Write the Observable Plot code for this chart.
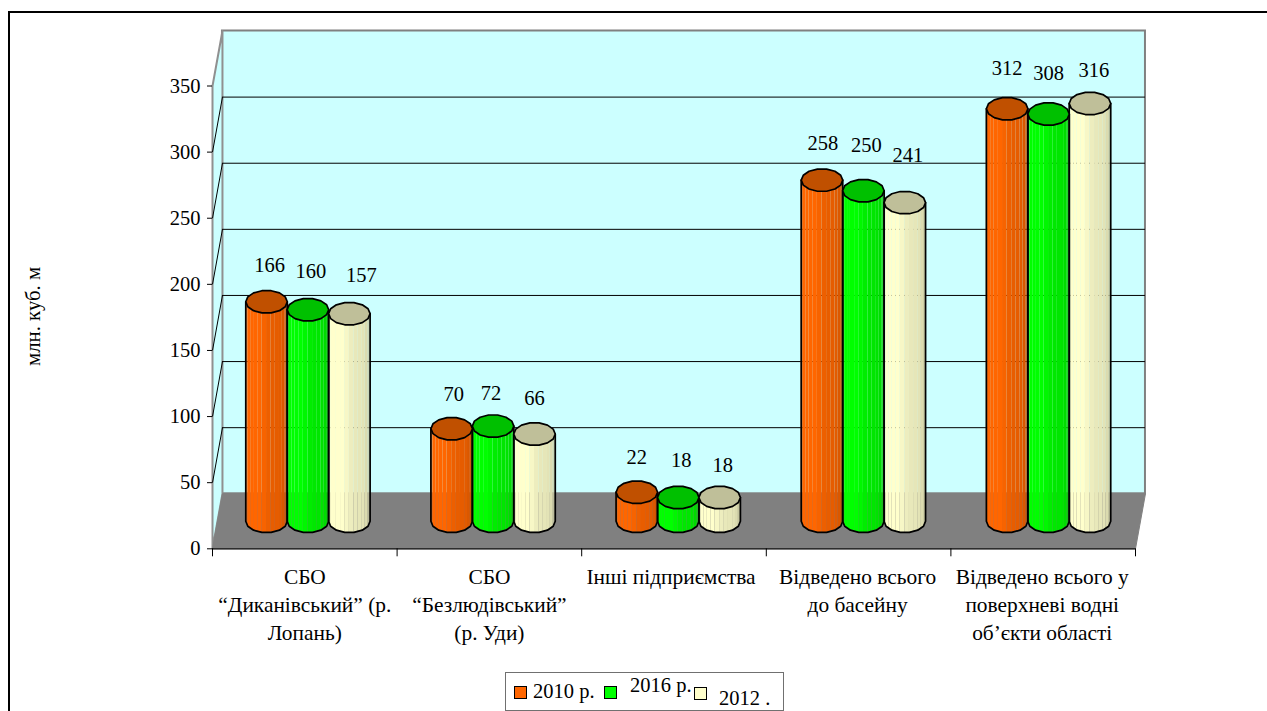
<!DOCTYPE html>
<html lang="uk">
<head>
<meta charset="utf-8">
<title>Скиди у поверхневі водні об'єкти</title>
<style>
  html, body { margin: 0; padding: 0; background: #fff; overflow: hidden; }
  body { width: 1267px; height: 711px; position: relative; font-family: "Liberation Serif", serif; color: #000; }
  #frame { position: absolute; left: 8px; top: 11px; right: 0; bottom: 0; border-left: 2px solid #000; border-top: 2px solid #000; pointer-events: none; }
  #legend { position: absolute; left: 505px; top: 672px; width: 277px; height: 37px; border: 1px solid #707070; overflow: hidden; background: #fff; font-size: 20.5px; }
  #legend i { position: absolute; width: 11px; height: 11px; border: 1px solid #000; }
  #legend span { position: absolute; line-height: 1; white-space: nowrap; }
  #chart { position: absolute; left: 0; top: 0; }
</style>
<script src="https://cdn.jsdelivr.net/npm/d3@7"></script>
<script src="https://cdn.jsdelivr.net/npm/@observablehq/plot@0.6"></script>
</head>
<body>
<div id="chart"></div>
<div id="frame"></div>
<div id="legend"></div>
<script>
// Wastewater discharge by outlet, million cubic metres.
const categories = [
  "СБО\n“Диканівський” (р.\nЛопань)",
  "СБО\n“Безлюдівський”\n(р. Уди)",
  "Інші підприємства",
  "Відведено всього\nдо басейну",
  "Відведено всього у\nповерхневі водні\nоб’єкти області"
];
const seriesNames = ["2010 р.", "2016 р.", "2012 ."];
const values2010 = [166, 70, 22, 258, 312];
const values2016 = [160, 72, 18, 250, 308];
const values2012 = [157, 66, 18, 241, 316];
const yTicks = [0, 50, 100, 150, 200, 250, 300, 350];

const seriesValues = [values2010, values2016, values2012];
const sideColors = ["#ff6600", "#00ff00", "#ffffcc"];
const topColors = ["#c05000", "#00c000", "#bfbf99"];

// Oblique box: how far the back plane sits from the front plane, in scale units.
const depthX = 0.054;
const depthY = 41.6;
const xMax = categories.length;

// Cylinder geometry in scale units, seated halfway into the box.
const radiusX = 0.1125;
const radiusY = 8.6;
const pitch = 0.2243;
const groupCentre = 0.517;
const baseY = depthY / 2;

// Left-to-right lighting across the barrel; two facets per side of the foot.
const lighting = [0.92, 0.97, 1, 1, 1, 1, 0.97, 0.93, 0.91, 0.9, 0.89, 0.86, 0.81, 0.76];
const footSides = lighting.length / 2;

const cylinders = seriesValues.flatMap((values, s) =>
  values.map((value, g) => ({
    id: `${g}-${s}`,
    series: s,
    value,
    cx: g * 1.003 + groupCentre + (s - 1) * pitch
  }))
);

// Outline of a cylinder head: a many-sided polygon with flat top and bottom.
const headPoints = cylinders.flatMap((c) =>
  d3.range(2 * footSides).map((i) => {
    const a = (i / (2 * footSides)) * 2 * Math.PI;
    return {
      id: c.id,
      fill: topColors[c.series],
      x: c.cx + radiusX * Math.cos(a),
      y: baseY + c.value + radiusY * Math.sin(a)
    };
  })
);

// Corner of the foot polygon, left to right; odd steps sit midway along a side.
function footPoint(c, k) {
  if (k % 2) {
    const p = footPoint(c, k - 1);
    const q = footPoint(c, k + 1);
    return { x: (p.x + q.x) / 2, y: (p.y + q.y) / 2 };
  }
  const a = Math.PI - (k / lighting.length) * Math.PI;
  return { x: c.cx + radiusX * Math.cos(a), y: baseY - radiusY * Math.sin(a) };
}

// Barrel split into vertical facets that follow the rounded foot.
const facets = cylinders.flatMap((c) =>
  lighting.flatMap((shade, i) => {
    const base = d3.rgb(sideColors[c.series]);
    const fill = d3.rgb(base.r * shade, base.g * shade, base.b * shade).formatHex();
    return [i, i + 1].map((k) => {
      const p = footPoint(c, k);
      return { id: `${c.id}-${i}`, fill, x: p.x, y1: p.y, y2: baseY + c.value };
    });
  })
);

// Barrel outline: up the left side, down the right side, round the foot.
const barrelOutline = cylinders.flatMap((c) => {
  const foot = d3.range(0, lighting.length + 1, 2).map((k) => ({ id: c.id, ...footPoint(c, k) }));
  return [
    { id: c.id, x: c.cx - radiusX, y: baseY + c.value },
    ...foot,
    { id: c.id, x: c.cx + radiusX, y: baseY + c.value }
  ];
});

// Hand-placed offsets that keep neighbouring value labels apart.
const labelShift = [
  [[3, -36], [3, -38], [12, -38]],
  [[2, -34], [-2, -33], [0, -36]],
  [[0, -35], [3, -37], [3, -32]],
  [[1, -37], [3, -45], [3, -47]],
  [[0, -40], [0, -41], [4, -33]]
];

const leftWall = [
  { x: 0, y: 0 }, { x: depthX, y: depthY },
  { x: depthX, y: 350 + depthY }, { x: 0, y: 350 }
];
const floor = [
  { x: 0, y: 0 }, { x: depthX, y: depthY },
  { x: xMax + depthX, y: depthY }, { x: xMax, y: 0 }
];
const wallTicks = yTicks.slice(1, -1);
const categoryShift = [0, 0, -3, -1, -1];

const chart = Plot.plot({
  width: 1267,
  height: 711,
  marginLeft: 212,
  marginRight: 132,
  marginTop: 85.5,
  marginBottom: 162.7,
  style: { fontFamily: "'Liberation Serif', serif", fontSize: "20.5px", color: "#000", background: "transparent" },
  x: { domain: [0, xMax], axis: null },
  y: { domain: [0, 350], axis: null },
  marks: [
    Plot.rect([0], { x1: depthX, x2: xMax + depthX, y1: depthY, y2: 350 + depthY, fill: "#ccffff", stroke: "#808080", strokeWidth: 2 }),
    Plot.line(leftWall, { x: "x", y: "y", curve: "linear-closed", fill: "#ccffff", stroke: "#909090", strokeWidth: 2 }),
    Plot.ruleY(wallTicks, { y: (v) => v + depthY, x1: depthX, x2: xMax + depthX, stroke: "#000", strokeWidth: 1 }),
    Plot.link(wallTicks, { x1: 0, y1: (v) => v, x2: depthX, y2: (v) => v + depthY, stroke: "#000", strokeWidth: 1 }),
    Plot.line(floor, { x: "x", y: "y", curve: "linear-closed", fill: "#808080", stroke: "#808080", strokeWidth: 1 }),
    Plot.ruleY([0], { x1: 0, x2: xMax, stroke: "#000", strokeWidth: 1 }),
    Plot.axisX({ ticks: d3.range(xMax + 1), tickSize: 8, fill: "none", label: null, stroke: "#000" }),
    Plot.axisY({ ticks: yTicks, tickSize: 5, tickPadding: 7, label: null, stroke: "#000", fontVariant: "normal" }),
    Plot.areaY(facets, { x: "x", y1: "y1", y2: "y2", z: "id", fill: "fill", stroke: "none" }),
    Plot.line(barrelOutline, { x: "x", y: "y", z: "id", stroke: "#000", strokeWidth: 1.7, strokeLinejoin: "round" }),
    Plot.line(headPoints, { x: "x", y: "y", z: "id", fill: "fill", stroke: "#000", strokeWidth: 1.7, strokeLinejoin: "round", curve: "linear-closed" }),
    ...cylinders.map((c) => {
      const [g, s] = c.id.split("-").map(Number);
      const [dx, dy] = labelShift[g][s];
      return Plot.text([c], { x: "cx", y: (d) => baseY + d.value, text: (d) => String(d.value), dx, dy, fill: "#000" });
    }),
    ...categories.map((name, i) =>
      Plot.text([name], {
        x: i + 0.5,
        y: 0,
        text: (d) => d,
        lineAnchor: "top",
        lineHeight: 1.33,
        fontSize: 21.4,
        dx: categoryShift[i],
        dy: 14.5,
        fill: "#000"
      })
    ),
    Plot.text(["млн. куб. м"], {
      frameAnchor: "left",
      textAnchor: "middle",
      rotate: -90,
      dx: -179,
      dy: -1,
      fontSize: 20.8,
      fill: "#000"
    })
  ]
});
document.getElementById("chart").append(chart);

// Legend box with its entries, sitting below the plot area.
const legendEntries = [
  { swatch: [8, 13], text: [27, 8] },
  { swatch: [98, 13], text: [124, 2] },
  { swatch: [188, 14], text: [213, 15] }
];
const legend = document.getElementById("legend");
legendEntries.forEach((entry, i) => {
  const swatch = document.createElement("i");
  swatch.style.left = entry.swatch[0] + "px";
  swatch.style.top = entry.swatch[1] + "px";
  swatch.style.background = sideColors[i];
  const label = document.createElement("span");
  label.textContent = seriesNames[i];
  label.style.left = entry.text[0] + "px";
  label.style.top = entry.text[1] + "px";
  legend.append(swatch, label);
});
</script>
</body>
</html>
